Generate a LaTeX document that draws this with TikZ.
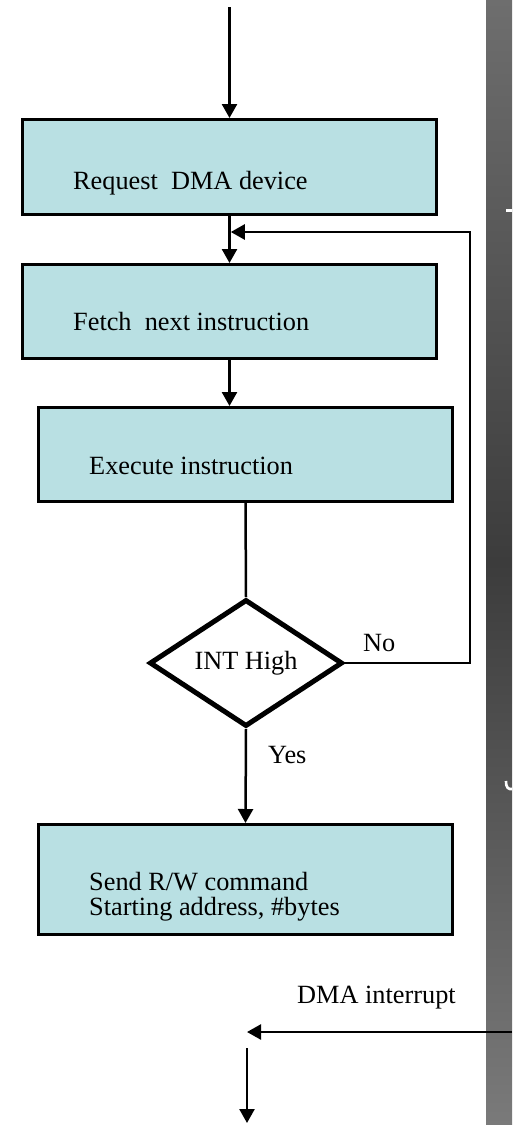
\documentclass[tikz,border=0pt]{standalone}
\usepackage{fontspec}
\setmainfont{Liberation Serif}
\usetikzlibrary{arrows.meta,shapes.geometric}
\definecolor{boxfill}{RGB}{185,224,227}
\definecolor{bartop}{RGB}{110,110,110}
\definecolor{barmid}{RGB}{60,60,60}
\definecolor{barbot}{RGB}{122,122,122}
\begin{document}
\begin{tikzpicture}[x=1pt,y=-1pt,
  stepbox/.style={rectangle, draw=black, line width=3pt, fill=boxfill,
    inner sep=0pt, minimum width=414pt},
  steptext/.style={font=\fontsize{26.3pt}{25pt}\selectfont, inner sep=0pt,
    anchor=base west},
  decision/.style={diamond, draw=black, line width=5pt, fill=white,
    inner sep=0pt, minimum width=193pt, minimum height=127pt,
    font=\fontsize{26.3pt}{25pt}\selectfont},
  flow/.style={line width=2.5pt, -{Triangle[width=15pt,length=14pt]}},
  plain/.style={line width=2.5pt}]

% page
\useasboundingbox (0,0) rectangle (512,1125);
\fill[white] (0,0) rectangle (512,1125);

% side bar, shaded light-dark-light from top to bottom
\begin{scope}[y=1pt]
  \shade[bottom color=barbot, top color=bartop, middle color=barmid]
    (486,-1125) rectangle (512,0);
\end{scope}
\fill[white] (506,208.5) rectangle (512,212);
\draw[white, line width=2.6pt] (506,781) .. controls (506,788) and (508.5,789.5) .. (512,789);

% steps
\node[stepbox, minimum height=95pt] (req) at (229.5,167) {};
\node[steptext] (reqtxt) at (73,189) {Request\ \ DMA device};

\node[stepbox, minimum height=94pt] (fetch) at (229.5,311.5) {};
\node[steptext] (fetchtxt) at (73,330) {Fetch\ \ next instruction};

\node[stepbox, minimum height=94pt] (exec) at (245.5,454.5) {};
\node[steptext] (exectxt) at (89,474) {Execute instruction};

\node[decision] (int) at (246,663) {INT High};

\node[stepbox, minimum height=110pt] (send) at (245.5,879.5) {};
\node[steptext, anchor=north west, align=left] (sendtxt) at (89,872)
  {Send R/W command\\Starting address, \#bytes};

% labels
\node[steptext] (no) at (363,651) {No};
\node[steptext] (yes) at (268,763) {Yes};
\node[steptext] (irqtxt) at (297,1003) {DMA interrupt};

% free ends
\coordinate (entry) at (229.5,7);
\coordinate (loop) at (470,232);
\coordinate (merge) at (230.8,232);
\coordinate (irqsrc) at (512,1032);
\coordinate (irqend) at (247,1032);
\coordinate (outtop) at (247,1048);
\coordinate (outbot) at (247,1123);

% connectors
\draw[flow] (entry) -- (req.north);
\draw[flow] (req.south) -- (fetch.north);
\draw[flow] (fetch.south) -- (fetch.south |- exec.north);
\draw[plain] (exec.south) -- (int.north);
\draw[flow] (int.south) -- (send.north);
\draw[flow] (int.east) -| (loop) -- (merge);
\draw[flow] (irqsrc) -- (irqend);
\draw[flow] (outtop) -- (outbot);
\end{tikzpicture}
\end{document}
